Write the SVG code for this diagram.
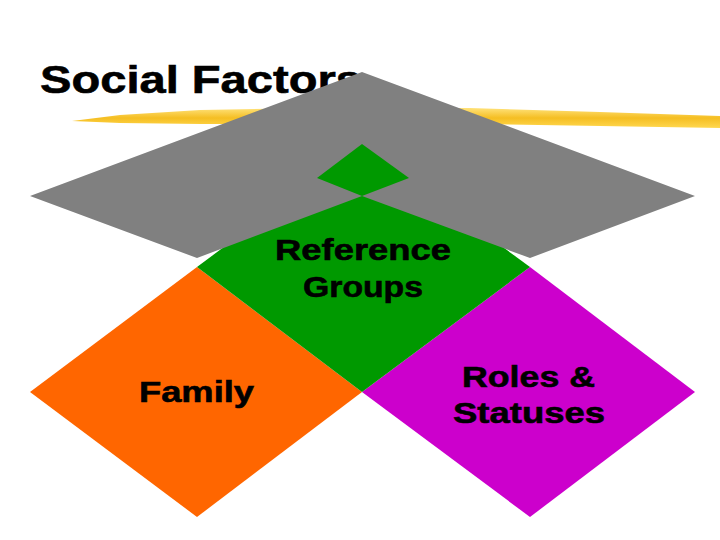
<svg xmlns="http://www.w3.org/2000/svg" width="720" height="540" viewBox="0 0 720 540">
  <defs>
    <linearGradient id="brush" x1="0" y1="0" x2="0" y2="1">
      <stop offset="0" stop-color="#FFE27A"/>
      <stop offset="0.5" stop-color="#F5BE22"/>
      <stop offset="1" stop-color="#FFD850"/>
    </linearGradient>
  </defs>
  <style>
    .lbl { font-family: "Liberation Sans", Arial, sans-serif; font-weight: bold; font-size: 30px; fill: #000; stroke: #000; stroke-width: 0.6px; }
    .title { font-family: "Liberation Sans", Arial, sans-serif; font-weight: bold; font-size: 39px; fill: #000; stroke: #000; stroke-width: 0.6px; }
  </style>
  <rect width="720" height="540" fill="#ffffff"/>
  <g id="title">
    <text class="title" x="40" y="93" textLength="322" lengthAdjust="spacingAndGlyphs">Social Factors</text>
    <polygon fill="url(#brush)" points="72,121 120,115 200,110 300,108 470,108 600,112 720,116 720,128 600,126 470,124 300,124 200,124 120,123"/>
  </g>
  <g id="family">
    <polygon fill="#FF6600" points="30,392 197,267 362,392 197,517"/>
    <text class="lbl" x="139" y="402" textLength="115" lengthAdjust="spacingAndGlyphs">Family</text>
  </g>
  <g id="roles-statuses">
    <polygon fill="#CC00CC" points="362,392 530,267 695,392 530,517"/>
    <text class="lbl" x="462" y="387" textLength="133" lengthAdjust="spacingAndGlyphs">Roles &amp;</text>
    <text class="lbl" x="453" y="423" textLength="152" lengthAdjust="spacingAndGlyphs">Statuses</text>
  </g>
  <g id="reference-groups">
    <polygon fill="#009900" points="197,267 362,144 530,267 362,392"/>
  </g>
  <g id="social-factors-roof">
    <polygon fill="#808080" points="30,196 362,72 695,196 530,258 362,196 197,258"/>
    <polygon fill="#009900" points="317,178 362,144 409,178 362,196"/>
  </g>
  <g id="reference-groups-label">
    <text class="lbl" x="275" y="260" textLength="176" lengthAdjust="spacingAndGlyphs">Reference</text>
    <text class="lbl" x="303" y="297" textLength="120" lengthAdjust="spacingAndGlyphs">Groups</text>
  </g>
</svg>
